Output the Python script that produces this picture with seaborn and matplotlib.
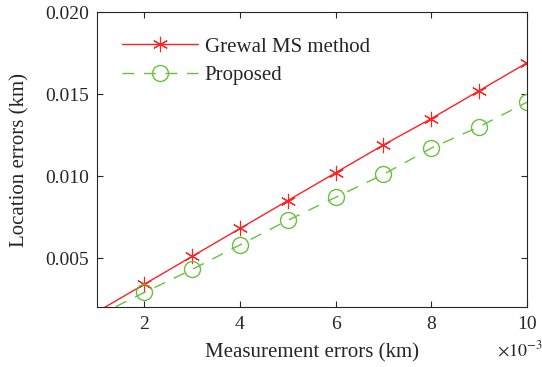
import matplotlib
matplotlib.use("Agg")
import matplotlib.pyplot as plt
import seaborn as sns
import pandas as pd

# data (x in km, markers only at 2..10 e-3)
meas_err = [0.001, 0.002, 0.003, 0.004, 0.005, 0.006, 0.007, 0.008, 0.009, 0.010]
grewal = [0.0017, 0.0034, 0.0051, 0.0068, 0.0085, 0.0102, 0.0119, 0.0135, 0.0152, 0.0169]
proposed = [0.00145, 0.0029, 0.0043, 0.0058, 0.0073, 0.0087, 0.0101, 0.0117, 0.0130, 0.0145]
xticks = [0.002, 0.004, 0.006, 0.008, 0.010]
xticklabels = ["2", "4", "6", "8", "10"]
yticks = [0.005, 0.010, 0.015, 0.020]

df = pd.DataFrame({"x": meas_err, "grewal": grewal, "proposed": proposed})

sns.set_style("ticks")
plt.rcParams["font.family"] = ["Liberation Serif", "DejaVu Serif"]
plt.rcParams["mathtext.fontset"] = "stix"

fig = plt.figure(figsize=(5.42, 3.67), dpi=100)
ax = fig.add_axes([0.179, 0.163, 0.793, 0.804])

red = "#ff2020"
green = "#66c23a"
sns.lineplot(data=df, x="x", y="grewal", ax=ax, color=red, lw=1.0,
             marker="*", markersize=11, markevery=list(range(1, 10)),
             markerfacecolor=red, markeredgecolor=red, markeredgewidth=0.8,
             label="Grewal MS method")
sns.lineplot(data=df, x="x", y="proposed", ax=ax, color=green, lw=1.0,
             marker="o", markersize=11.5, markevery=list(range(1, 10)),
             markerfacecolor="none", markeredgecolor=green, markeredgewidth=1.0,
             dashes=(8.5, 7), label="Proposed")

# asterisk-like markers
ax.lines[0].set_marker((6, 2, 0))

ax.set_xlim(0.00101, 0.010)
ax.set_ylim(0.002, 0.020)
ax.set_xticks(xticks)
ax.set_xticklabels(xticklabels)
ax.set_yticks(yticks)
ax.set_yticklabels([f"{v:.3f}" for v in yticks])
ax.tick_params(direction="in", top=True, right=True, labelsize=14, length=4,
               color="#262626", labelcolor="#262626", pad=6)
for s in ax.spines.values():
    s.set_color("#262626")
    s.set_linewidth(0.8)

ax.set_xlabel("Measurement errors (km)", fontsize=15, color="#262626", labelpad=8)
ax.set_ylabel("Location errors (km)", fontsize=15, color="#262626", labelpad=11)
fig.text(0.917, 0.03, r"$\times10^{-3}$", ha="left", va="baseline", fontsize=13, color="#262626")

leg = ax.legend(loc="upper left", bbox_to_anchor=(0.058, 0.915), frameon=False, fontsize=15,
                handlelength=3.65, handletextpad=0.33, labelspacing=0.42,
                borderpad=0, borderaxespad=0)
for t in leg.get_texts():
    t.set_color("#262626")

plt.savefig("out.png", dpi=100, facecolor="w")
